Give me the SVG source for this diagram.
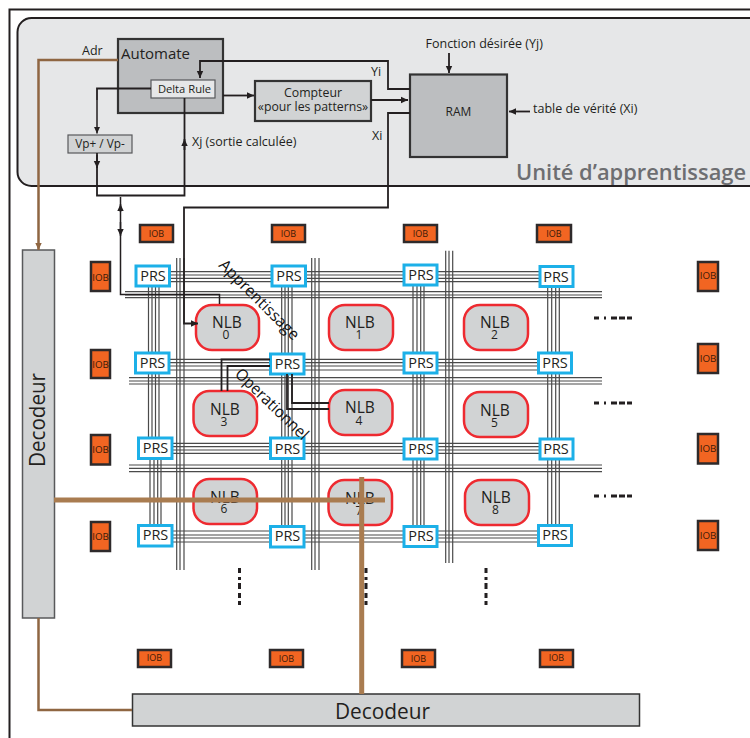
<svg xmlns="http://www.w3.org/2000/svg" width="750" height="738" viewBox="0 0 750 738">
<style>
text{font-family:"Open Sans","Noto Sans","Liberation Sans",sans-serif;fill:#231f20}
.m{text-anchor:middle}
.l{font-size:12.5px}
.w{fill:none;stroke:#231f20;stroke-width:1.8}
.w2{fill:none;stroke:#231f20;stroke-width:1.5}
.b{fill:none;stroke:#4a4a4a;stroke-width:1.2}
.prs rect{fill:#fff;stroke:#1cb0e8;stroke-width:3}
.prs text{font-size:14.5px;text-anchor:middle}
.nlb rect{fill:#d1d3d4;stroke:#ee2a30;stroke-width:2.5}
.nlb text{text-anchor:middle;font-size:15.5px}
.nlb text+text{font-size:12px}
.iob rect{fill:#f26522;stroke:#2e2a2b;stroke-width:2.5}
.iob text{font-size:9px;text-anchor:middle;fill:#3a1a08}
.v text{font-size:9.8px}
.br{fill:none;stroke:#8f6642;stroke-width:2.5}
.bt{fill:none;stroke:#a97c50;stroke-width:5}
.d{fill:none;stroke:#231f20;stroke-width:3}
.rot{font-size:16px;fill:#111}
</style>
<defs>
<marker id="a" markerUnits="userSpaceOnUse" markerWidth="8" markerHeight="8" refX="7" refY="4" orient="auto"><path d="M0 .8L7 4L0 7.2z" fill="#231f20"/></marker>
<marker id="ab" markerUnits="userSpaceOnUse" markerWidth="8" markerHeight="8" refX="7" refY="4" orient="auto"><path d="M0 .8L7 4L0 7.2z" fill="#8f6642"/></marker>
</defs>
<rect width="750" height="738" fill="#fff"/>
<path d="M9.5 738V9.5H750" fill="none" stroke="#231f20" stroke-width="2"/>
<rect id="unite-bg" x="17.5" y="18" width="745" height="168" rx="14" fill="#e6e7e8" stroke="#231f20" stroke-width="2"/>
<g id="buses" class="b">
<path class="b" d="M152 271.7H555M152 275H555M152 278.3H555M152 281.7H555M152 359.3H555M152 362.7H555M152 366H555M152 370H555M155 443.3H555M155 446.7H555M155 450H555M155 453.3H555M155 531H555M155 535H555M155 538H555M155 542H555"/>
<path class="b" d="M125 291.7H602M125 295H602M125 297.7H602M129 377.7H602M129 381H602M129 384H602M129 465H602M129 468.3H602M129 471.7H602"/>
<path class="b" d="M148.5 276V440M152 276V440M155.500 276V440M159 276V440M150 440V535M154 440V535M157.7 440V535M161 440V535M281.7 276V536M285 276V536M288.3 276V536M292 276V536M413 276V536M417 276V536M420.7 276V536M424 276V536M547.7 276V536M551.7 276V536M555.7 276V536M559.3 276V536"/>
<path class="b" d="M176.7 258V570M180 258V570M184 258V570M311.7 258V570M315 258V570M319 258V570M445.7 250.7V563M449 250.7V563M452.7 250.7V563"/>
</g>
<g id="automate"><rect x="118" y="39" width="105" height="74" fill="#bcbec0" stroke="#333" stroke-width="2.2"/><text x="121" y="59" font-size="15">Automate</text></g>
<g id="delta-rule"><rect x="151" y="80" width="64" height="18" fill="#e6e7e8" stroke="#58595b" stroke-width="1.2"/><text x="184.500" y="93" class="m" font-size="11.200">Delta Rule</text></g>
<g id="compteur"><rect x="255" y="81" width="116" height="40" fill="#d1d3d4" stroke="#333" stroke-width="2.2"/><text x="313" y="97" class="m" font-size="12.300">Compteur</text><text x="313" y="111" class="m" font-size="12.300">«pour les patterns»</text></g>
<g id="ram"><rect x="410" y="74.500" width="97" height="82.500" fill="#bcbec0" stroke="#333" stroke-width="2.2"/><text x="458.500" y="116" class="m" font-size="12">RAM</text></g>
<g id="vp"><rect x="68" y="135" width="64" height="18" fill="#d1d3d4" stroke="#58595b" stroke-width="1.2"/><text x="100" y="148" class="m" font-size="11.800">Vp+ / Vp-</text></g>
<text x="516" y="180" font-size="22" font-weight="600" textLength="230" lengthAdjust="spacingAndGlyphs" style="fill:#6d6e71">Unité d’apprentissage</text>
<text x="82" y="55" class="l">Adr</text>
<text x="371" y="76" class="l">Yi</text>
<text x="372" y="140" class="l">Xi</text>
<text x="192" y="146" class="l">Xj (sortie calculée)</text>
<text x="425.500" y="48" class="l">Fonction désirée (Yj)</text>
<text x="533" y="113" class="l">table de vérité (Xi)</text>
<g id="nlb0" class="nlb"><rect x="196" y="305" width="63" height="45" rx="16"/><text x="227" y="328">NLB</text><text x="226" y="339">0</text></g>
<g id="nlb1" class="nlb"><rect x="329" y="305" width="64" height="45" rx="16"/><text x="360" y="328">NLB</text><text x="359" y="339">1</text></g>
<g id="nlb2" class="nlb"><rect x="464" y="305" width="64" height="45" rx="16"/><text x="495" y="328">NLB</text><text x="494.500" y="339">2</text></g>
<g id="nlb3" class="nlb"><rect x="193.500" y="391" width="63.500" height="45" rx="16"/><text x="225" y="415">NLB</text><text x="224" y="426">3</text></g>
<g id="nlb4" class="nlb"><rect x="329" y="390" width="63.500" height="45" rx="16"/><text x="360" y="413">NLB</text><text x="359" y="425">4</text></g>
<g id="nlb5" class="nlb"><rect x="464" y="392" width="64" height="45" rx="16"/><text x="495" y="416">NLB</text><text x="494.500" y="427">5</text></g>
<g id="nlb6" class="nlb"><rect x="193.500" y="479" width="63.500" height="45" rx="16"/><text x="225" y="503">NLB</text><text x="224" y="513">6</text></g>
<g id="nlb7" class="nlb"><rect x="328.500" y="480" width="63.500" height="45" rx="16"/><text x="360" y="504">NLB</text><text x="359" y="515">7</text></g>
<g id="nlb8" class="nlb"><rect x="465" y="480" width="64" height="45" rx="16"/><text x="496" y="503">NLB</text><text x="495.500" y="514">8</text></g>
<g id="prs0" class="prs"><rect x="136" y="266" width="33.500" height="20"/><text x="153" y="281">PRS</text></g>
<g id="prs1" class="prs"><rect x="272" y="266" width="33.500" height="20"/><text x="289" y="281">PRS</text></g>
<g id="prs2" class="prs"><rect x="404" y="265" width="33" height="20"/><text x="421" y="280">PRS</text></g>
<g id="prs3" class="prs"><rect x="540" y="266.500" width="33" height="20"/><text x="556" y="282">PRS</text></g>
<g id="prs4" class="prs"><rect x="135.500" y="353" width="33.500" height="20"/><text x="152.500" y="368">PRS</text></g>
<g id="prs5" class="prs"><rect x="270.500" y="354" width="33.500" height="20"/><text x="287.500" y="369">PRS</text></g>
<g id="prs6" class="prs"><rect x="404" y="353" width="33" height="20"/><text x="421" y="368">PRS</text></g>
<g id="prs7" class="prs"><rect x="538.500" y="353" width="33" height="20"/><text x="555" y="368">PRS</text></g>
<g id="prs8" class="prs"><rect x="138.500" y="438" width="33.500" height="20.500"/><text x="155.500" y="453">PRS</text></g>
<g id="prs9" class="prs"><rect x="270.500" y="438" width="33.500" height="20.500"/><text x="287.500" y="454">PRS</text></g>
<g id="prs10" class="prs"><rect x="404" y="439" width="33" height="20"/><text x="421" y="454">PRS</text></g>
<g id="prs11" class="prs"><rect x="540" y="439" width="33" height="20"/><text x="556" y="454">PRS</text></g>
<g id="prs12" class="prs"><rect x="138.500" y="525.500" width="33.500" height="20.500"/><text x="155.500" y="540">PRS</text></g>
<g id="prs13" class="prs"><rect x="270.500" y="526.500" width="33.500" height="20.500"/><text x="287.500" y="541">PRS</text></g>
<g id="prs14" class="prs"><rect x="404" y="526.500" width="33" height="20"/><text x="421" y="541">PRS</text></g>
<g id="prs15" class="prs"><rect x="538.500" y="525.500" width="33" height="20"/><text x="555" y="540">PRS</text></g>
<g id="iob-t0" class="iob"><rect x="140" y="225" width="33" height="17"/><text x="156.500" y="237">IOB</text></g>
<g id="iob-t1" class="iob"><rect x="272" y="225" width="33" height="17"/><text x="288.500" y="237">IOB</text></g>
<g id="iob-t2" class="iob"><rect x="404" y="225" width="33" height="17"/><text x="420.500" y="237">IOB</text></g>
<g id="iob-t3" class="iob"><rect x="537" y="225" width="34" height="17"/><text x="554" y="237">IOB</text></g>
<g id="iob-l0" class="iob v"><rect x="91" y="262" width="19" height="29"/><text x="100.500" y="281">IOB</text></g>
<g id="iob-l1" class="iob v"><rect x="91" y="350" width="19" height="28"/><text x="100.500" y="368">IOB</text></g>
<g id="iob-l2" class="iob v"><rect x="91" y="435" width="19" height="29.500"/><text x="100.500" y="453">IOB</text></g>
<g id="iob-l3" class="iob v"><rect x="91" y="522" width="19" height="29"/><text x="100.500" y="540">IOB</text></g>
<g id="iob-r0" class="iob v"><rect x="698" y="262" width="20" height="29"/><text x="708" y="279">IOB</text></g>
<g id="iob-r1" class="iob v"><rect x="698" y="344" width="20" height="29"/><text x="708" y="362">IOB</text></g>
<g id="iob-r2" class="iob v"><rect x="698" y="434" width="20" height="29.500"/><text x="708" y="452">IOB</text></g>
<g id="iob-r3" class="iob v"><rect x="698" y="521" width="20" height="29"/><text x="708" y="539">IOB</text></g>
<g id="iob-b0" class="iob"><rect x="138" y="650" width="33" height="17"/><text x="154.500" y="661">IOB</text></g>
<g id="iob-b1" class="iob"><rect x="270" y="650" width="33" height="17"/><text x="286.500" y="662">IOB</text></g>
<g id="iob-b2" class="iob"><rect x="402" y="650" width="33" height="17"/><text x="418.500" y="662">IOB</text></g>
<g id="iob-b3" class="iob"><rect x="540" y="650" width="33" height="17"/><text x="556.500" y="661">IOB</text></g>
<g id="decodeur-v"><rect x="22.500" y="250" width="32" height="368" fill="#d1d3d4" stroke="#58595b" stroke-width="1.5"/><text transform="translate(44.500 467) rotate(-90)" font-size="21.500" textLength="94" lengthAdjust="spacingAndGlyphs">Decodeur</text></g>
<g id="decodeur-h"><rect x="132.500" y="694" width="507" height="32" fill="#d1d3d4" stroke="#333" stroke-width="1.5"/><text x="335" y="719" font-size="21.500" textLength="95" lengthAdjust="spacingAndGlyphs">Decodeur</text></g>
<g id="connectors">
<path class="w" d="M223 61H388V89H410"/>
<path class="w" marker-end="url(#a)" d="M223 61H200V78"/>
<path class="w" d="M151 88.500H97V100"/>
<path class="w2" marker-end="url(#a)" d="M97 100V133.500"/>
<path class="w" marker-end="url(#a)" d="M223 95.500H254"/>
<path class="w" marker-end="url(#a)" d="M371 100H408"/>
<path class="w" d="M97 153V195.500H184.500V98"/>
<path class="w" marker-end="url(#a)" d="M97 155V168"/>
<path class="w" marker-end="url(#a)" d="M184.500 150V139"/>
<path class="w" marker-end="url(#a)" d="M449 53V73"/>
<path class="w" marker-end="url(#a)" d="M530 111.500H509"/>
<path class="w" d="M410 113H388V207.500H184V230"/>
<path class="w" marker-end="url(#a)" d="M184 230V323.500H198"/>
<path class="w2" d="M120.500 197V294.500H219.500V304"/>
<path class="w2" marker-end="url(#a)" d="M120.500 212V204"/>
<path class="w2" marker-end="url(#a)" d="M120.500 222V236"/>
<path class="w" d="M270 359.500H221.500V391M270 366H227.500V391M292 374V403H329M287 374V409H329"/>
<path class="br" marker-end="url(#ab)" d="M118 60H38.500V250"/>
<path class="br" d="M38.500 618V710H132"/>
<path class="bt" d="M54 500H385M361.700 477V694"/>
<path class="d" stroke-dasharray="5 5 2 5 6 2 6 2 5 10" d="M594 318H632M594 403H632M594 496H632"/>
<path class="d" stroke-dasharray="5 4 3 3 6 4 5 3 4 10" d="M239.500 568V605M366 568V605M486 568V605"/>
</g>
<text class="rot" transform="translate(218 266) rotate(45)" textLength="106" lengthAdjust="spacingAndGlyphs">Apprentissage</text>
<text class="rot" transform="translate(234 375) rotate(44)" textLength="95" lengthAdjust="spacingAndGlyphs">Operationnel</text>
</svg>
